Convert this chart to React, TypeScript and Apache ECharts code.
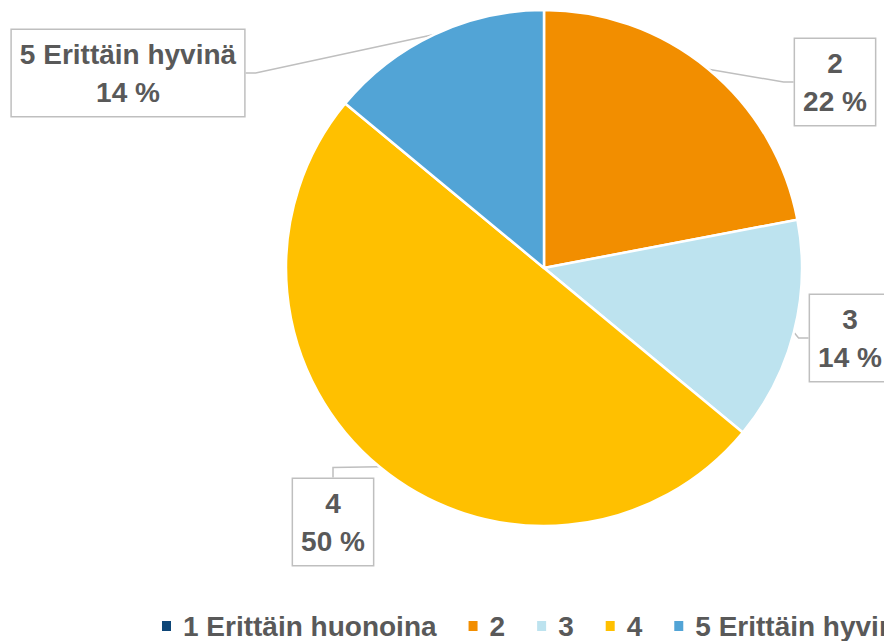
import React, { useEffect, useRef } from "react";
import * as echarts from "echarts";

const categories = ["1 Erittäin huonoina", "2", "3", "4", "5 Erittäin hyvinä"];
const values = [0, 22, 14, 50, 14];
const colors = ["#0E4677", "#F28E00", "#BDE3EF", "#FFC000", "#52A4D6"];
// label box centres (layout only)
const labelPositions: [number, number][] = [
  [0, 0],
  [835, 82],
  [850, 338],
  [333, 522],
  [128, 73],
];

const FONT = "'Liberation Sans', Arial, sans-serif";

export default function App() {
  const ref = useRef<HTMLDivElement>(null);
  useEffect(() => {
    if (!ref.current) return;
    const chart = echarts.init(ref.current, undefined, { renderer: "svg" });
    chart.setOption({
      animation: false,
      backgroundColor: "#ffffff",
      color: colors,
      legend: {
        left: 155,
        top: 607,
        width: 3000,
        itemWidth: 11,
        itemHeight: 12,
        itemGap: 30,
        icon: "rect",
        textStyle: {
          fontFamily: FONT,
          fontSize: 28,
          fontWeight: "bold",
          color: "#595959",
          padding: [0, 0, 0, 6],
        },
        data: categories,
      },
      series: [
        {
          type: "pie",
          center: [544, 268],
          radius: 258,
          startAngle: 90,
          clockwise: true,
          avoidLabelOverlap: false,
          itemStyle: { borderColor: "#ffffff", borderWidth: 2.5 },
          label: {
            show: true,
            formatter: "{b}\n{d} %",
            fontFamily: FONT,
            fontSize: 28,
            fontWeight: "bold",
            color: "#595959",
            lineHeight: 38,
            align: "center",
            backgroundColor: "#ffffff",
            borderColor: "#BFBFBF",
            borderWidth: 1.5,
            padding: [5, 8, 5, 8],
          },
          labelLine: {
            show: true,
            length: 10,
            length2: 10,
            lineStyle: { color: "#BFBFBF", width: 1.5 },
          },
          labelLayout: (params: any) => {
            const p = labelPositions[params.dataIndex];
            return { x: p[0], y: p[1], align: "center", verticalAlign: "middle" };
          },
          data: categories.map((name, i) =>
            values[i] === 0
              ? { name, value: values[i], label: { show: false }, labelLine: { show: false } }
              : { name, value: values[i] }
          ),
        },
      ],
    });
    return () => chart.dispose();
  }, []);
  return (
    <div
      ref={ref}
      style={{ position: "fixed", left: 0, top: 0, width: 884, height: 641 }}
    />
  );
}
